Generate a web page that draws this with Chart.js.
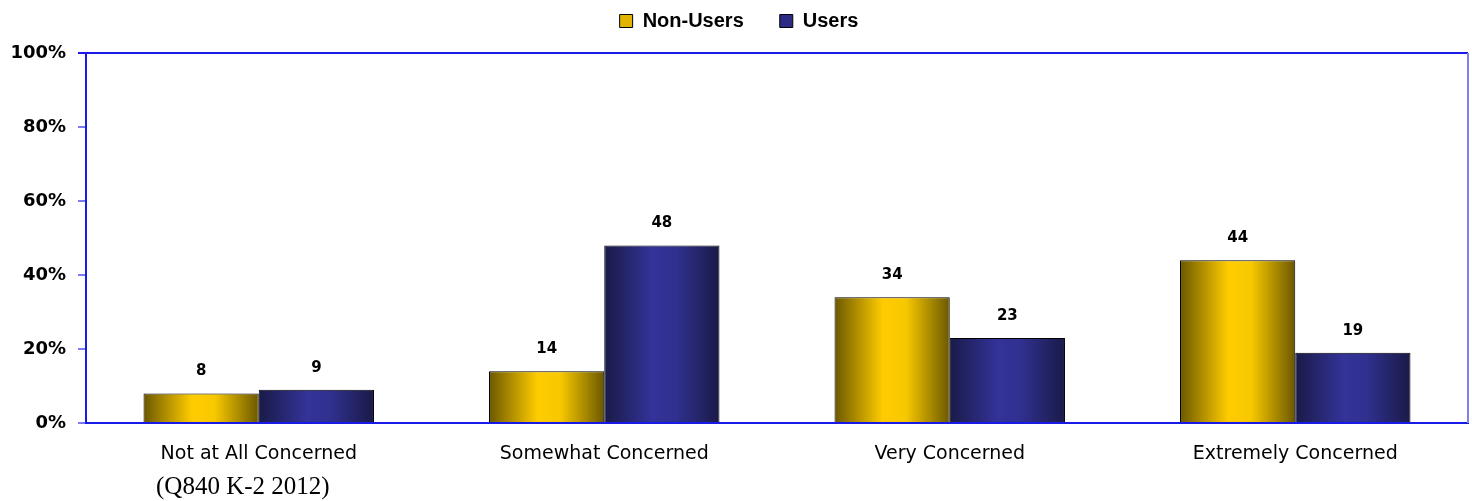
<!DOCTYPE html>
<html>
<head>
<meta charset="utf-8">
<script src="https://cdn.jsdelivr.net/npm/chart.js@4.4.1/dist/chart.umd.min.js"></script>
<style>
  html, body { margin: 0; padding: 0; background: #fff; }
  #wrap { width: 1472px; height: 501px; position: relative; }
</style>
</head>
<body>
<div id="wrap"><canvas id="myChart"></canvas></div>
<script>
// Level of concern, non-users vs users (percent)
const categories = ['Not at All Concerned', 'Somewhat Concerned', 'Very Concerned', 'Extremely Concerned'];
const nonUsers = [8, 14, 34, 44];
const users = [9, 48, 23, 19];
const yTicks = [0, 20, 40, 60, 80, 100];
const sourceNote = '(Q840 K-2 2012)';

// Colour stops for the cylinder-like shading of each bar
const shades = {
  gold: ['#6b5800', '#ffcc00', '#f7c800', '#6b5800'],
  navy: ['#1a1a48', '#333399', '#30308f', '#1a1a48']
};

function barGradient(ctx, x0, x1, stops) {
  const g = ctx.createLinearGradient(x0, 0, x1, 0);
  g.addColorStop(0, stops[0]);
  g.addColorStop(0.42, stops[1]);
  g.addColorStop(0.62, stops[2]);
  g.addColorStop(1, stops[3]);
  return g;
}

// Give every bar its own horizontal gradient once positions are known
const shadingPlugin = {
  id: 'shading',
  beforeDatasetsDraw(chart) {
    const ctx = chart.ctx;
    chart.data.datasets.forEach((ds, i) => {
      chart.getDatasetMeta(i).data.forEach(bar => {
        const x0 = bar.x - bar.width / 2;
        const x1 = bar.x + bar.width / 2;
        bar.options = Object.assign({}, bar.options, {
          backgroundColor: barGradient(ctx, x0, x1, shades[ds.shade])
        });
      });
    });
  }
};

// Value labels above bars, frame lines and the source note
const extrasPlugin = {
  id: 'extras',
  beforeInit(chart) {
    const legend = chart.legend;
    const fit = legend.fit;
    legend.fit = function () {
      fit.bind(legend)();
      this.height = 53;
    };
    // pull the legend row up, the item padding also sets its top offset
    const draw = legend.draw;
    legend.draw = function () {
      chart.ctx.save();
      chart.ctx.translate(5, -25);
      draw.bind(legend)();
      chart.ctx.restore();
    };
  },
  afterDatasetsDraw(chart) {
    const ctx = chart.ctx;
    const area = chart.chartArea;
    ctx.save();
    // top and right frame
    ctx.lineWidth = 2;
    ctx.strokeStyle = '#1a1ae6';
    ctx.beginPath();
    ctx.moveTo(area.left - 8, area.top);
    ctx.lineTo(area.right, area.top);
    ctx.stroke();
    ctx.strokeStyle = '#8080f0';
    ctx.beginPath();
    ctx.moveTo(area.right, area.top);
    ctx.lineTo(area.right, area.bottom);
    ctx.stroke();

    ctx.fillStyle = '#000';
    ctx.font = 'bold 15px "DejaVu Sans"';
    ctx.textAlign = 'center';
    ctx.textBaseline = 'middle';
    chart.data.datasets.forEach((ds, i) => {
      chart.getDatasetMeta(i).data.forEach((bar, j) => {
        ctx.fillText(String(ds.data[j]), bar.x, bar.y - 22);
      });
    });

    ctx.font = '25px "Liberation Serif"';
    ctx.textAlign = 'left';
    ctx.fillText(sourceNote, 156, 487);
    ctx.restore();
  }
};

window.onload = function () {
  const ctx = document.getElementById('myChart').getContext('2d');
  new Chart(ctx, {
    type: 'bar',
    data: {
      labels: categories,
      datasets: [
        { label: 'Non-Users', data: nonUsers, shade: 'gold', backgroundColor: '#e0b400', borderColor: '#000', borderWidth: 1 },
        { label: 'Users', data: users, shade: 'navy', backgroundColor: '#2b2b85', borderColor: '#000', borderWidth: 1 }
      ]
    },
    options: {
      responsive: true,
      maintainAspectRatio: false,
      animation: false,
      layout: { padding: { left: 0, right: 4, top: 0, bottom: 0 } },
      datasets: {
        bar: { categoryPercentage: 0.667, barPercentage: 1.0 }
      },
      plugins: {
        tooltip: { enabled: false },
        legend: {
          position: 'top',
          labels: {
            boxWidth: 13,
            boxHeight: 13,
            padding: 36,
            color: '#000',
            font: { family: '"Liberation Sans"', size: 20, weight: 'bold' }
          }
        }
      },
      scales: {
        x: {
          grid: { display: false, drawTicks: false },
          border: { color: '#1a1ae6', width: 2 },
          ticks: {
            color: '#000',
            padding: 20,
            font: { family: '"DejaVu Sans"', size: 19 }
          },
          afterFit(scale) { scale.height = 78; }
        },
        y: {
          min: 0,
          max: 100,
          afterBuildTicks(scale) { scale.ticks = yTicks.map(v => ({ value: v })); },
          grid: { drawOnChartArea: false, tickLength: 8, color: '#7a7af0', lineWidth: 2 },
          border: { color: '#1a1ae6', width: 2 },
          ticks: {
            color: '#000',
            padding: 12,
            font: { family: '"DejaVu Sans"', size: 18, weight: 'bold' },
            callback: v => v + '%'
          },
          afterFit(scale) { scale.width = 86; }
        }
      }
    },
    plugins: [shadingPlugin, extrasPlugin]
  });
};
</script>
</body>
</html>
